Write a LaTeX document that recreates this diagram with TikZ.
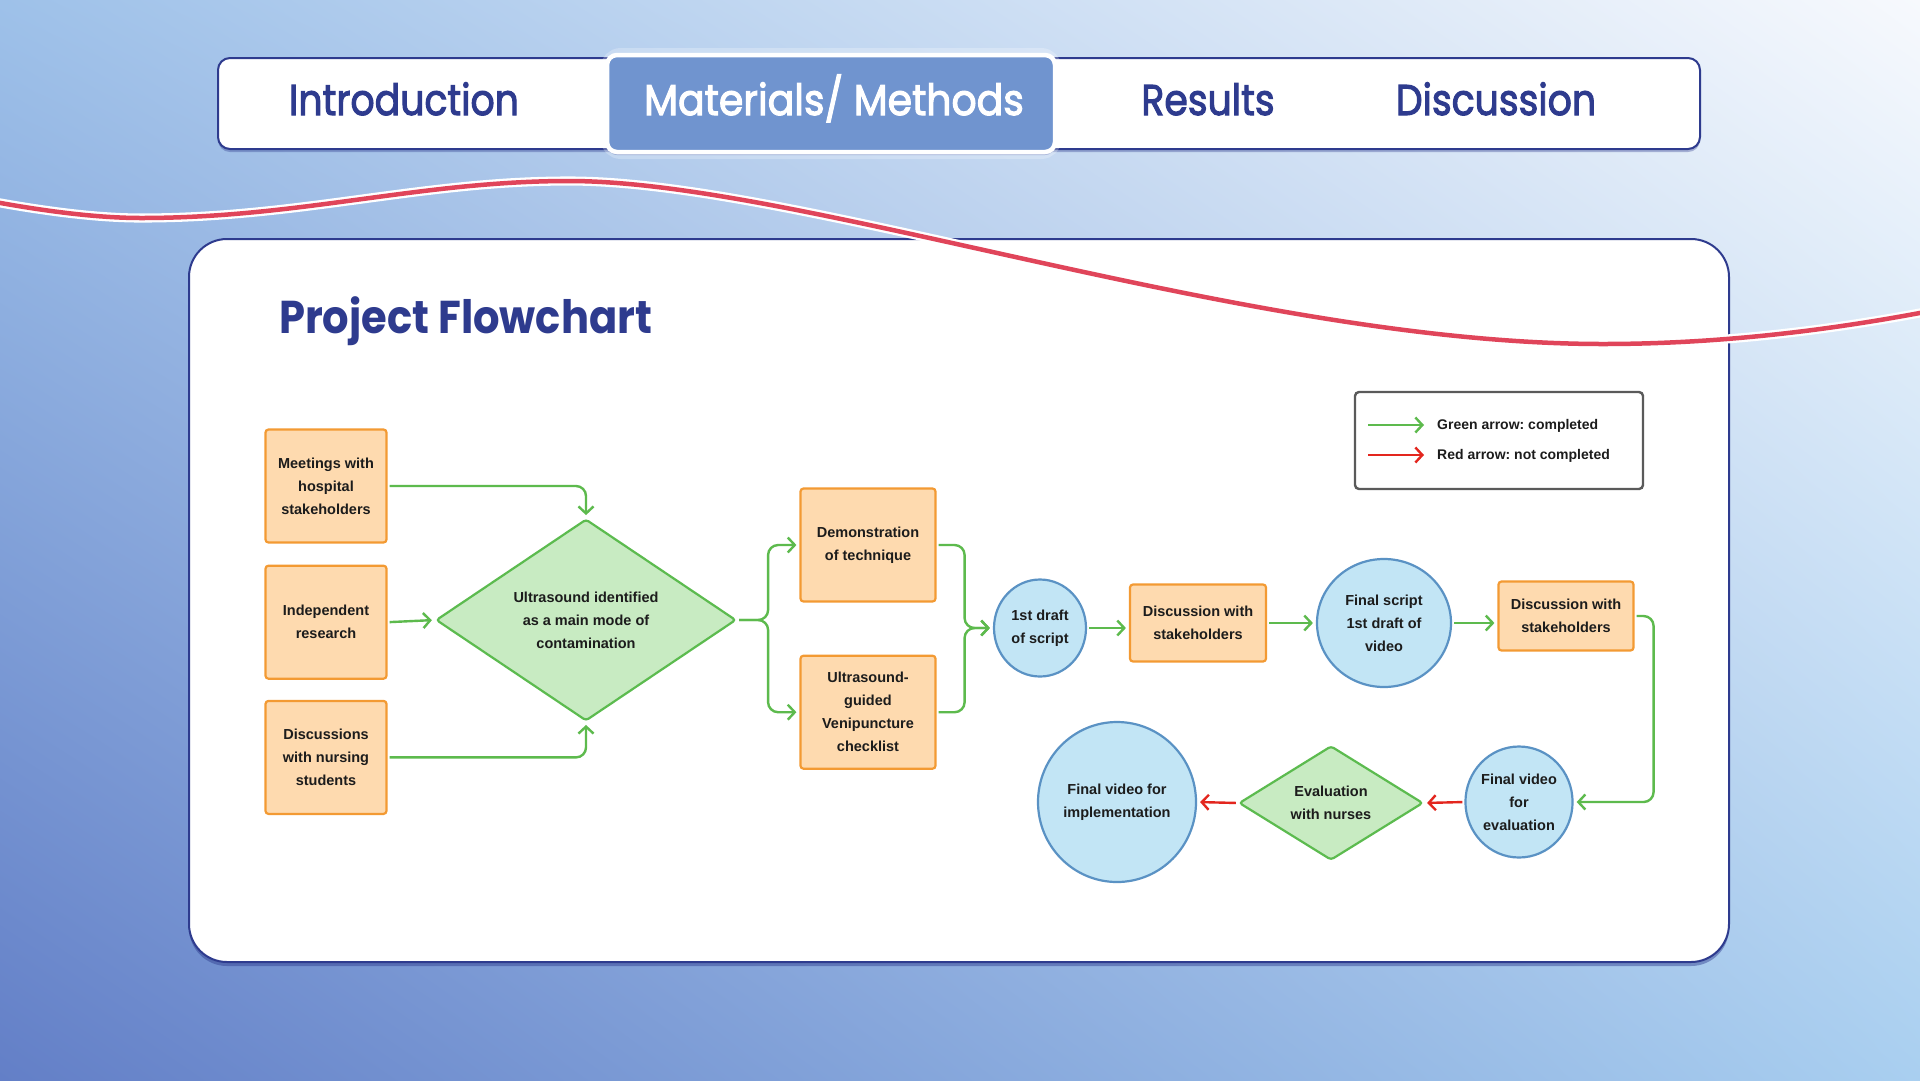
\documentclass[tikz,border=0pt]{standalone}
\usepackage{fontspec}
\setmainfont{Liberation Sans}
\newfontfamily\headfont{Poppins}
\newfontfamily\tabfont{Poppins}[FakeBold=2.6]
\usepackage{tikz}
\usetikzlibrary{shapes.geometric,arrows.meta,positioning,shadows,shadings,calc}
\frenchspacing

\definecolor{navy}{HTML}{2E3B8E}
\definecolor{boxfill}{HTML}{FEDAAF}
\definecolor{boxline}{HTML}{F39A33}
\definecolor{decfill}{HTML}{C8EBC2}
\definecolor{decline}{HTML}{5CBB4F}
\definecolor{circfill}{HTML}{C2E5F5}
\definecolor{circline}{HTML}{5A92C4}
\definecolor{okgreen}{HTML}{5DBA4D}
\definecolor{notred}{HTML}{E3261E}
\definecolor{wavered}{HTML}{E0455A}
\definecolor{activetab}{HTML}{7094CF}
\definecolor{inktext}{HTML}{1C1C1C}
\definecolor{legline}{HTML}{5A5A5A}
\definecolor{bgul}{RGB}{158,193,233}
\definecolor{bgur}{RGB}{247,249,253}
\definecolor{bgll}{RGB}{99,127,199}
\definecolor{bglr}{RGB}{169,207,240}

\newcommand{\boxfont}{\fontsize{14.5}{23}\selectfont\bfseries}
\newcommand{\legfont}{\fontsize{14}{16}\selectfont\bfseries}
\newcommand{\tabsize}{\fontsize{43}{50}\selectfont}

\begin{document}
\begin{tikzpicture}[
    x=1pt, y=-1pt,
    font=\boxfont,
    procbox/.style={rectangle, draw=boxline, fill=boxfill, line width=2.2pt, rounded corners=3pt, align=center, text=inktext, minimum width=121pt, minimum height=113pt, inner sep=2pt},
    decision/.style={diamond, draw=decline, fill=decfill, line width=2.2pt, rounded corners=3pt, align=center, text=inktext, inner sep=0pt},
    milestone/.style={ellipse, draw=circline, fill=circfill, line width=2.2pt, align=center, text=inktext, inner sep=0pt},
    garrow/.style={draw=okgreen, line width=2.4pt, -{Straight Barb[length=7pt,width=15pt]}, rounded corners=10pt, shorten >=3pt, shorten <=2pt},
    rarrow/.style={draw=notred, line width=2.4pt, -{Straight Barb[length=7pt,width=15pt]}, shorten >=3pt, shorten <=2pt},
    tablabel/.style={text=navy, font=\tabfont\tabsize, inner sep=0pt},
    legendbox/.style={rectangle, draw=legline, fill=white, line width=2.4pt, rounded corners=4pt, minimum width=288pt, minimum height=97pt}
]
\useasboundingbox (0,0) rectangle (1920,1080);

% Background and frames
\shade[upper left=bgul, upper right=bgur, lower left=bgll, lower right=bglr] (0,0) rectangle (1920,1080);
\draw[fill=white, draw=navy, line width=2pt, rounded corners=12pt,
      drop shadow={shadow xshift=0pt, shadow yshift=-3pt, opacity=.35, fill=navy}] (218,58) rectangle (1700,149);
\draw[draw=white, line width=14pt, opacity=.25, rounded corners=14pt] (607,55) rectangle (1055,152);
\draw[fill=activetab, draw=white, line width=4.5pt, rounded corners=10pt,
      drop shadow={shadow xshift=0pt, shadow yshift=-3pt, opacity=.3, fill=navy}] (607,55) rectangle (1055,152);
\draw[fill=white, draw=navy, line width=2pt, rounded corners=38pt,
      drop shadow={shadow xshift=0pt, shadow yshift=-4pt, opacity=.45, fill=navy}] (189,239) rectangle (1729,962);

% Wave
\draw[draw=white, double=wavered, double distance=4.5pt, line width=2.3pt]
    (-5,202) .. controls (50,212) and (100,218) .. (141,218)
    .. controls (300,218) and (420,181) .. (569,181)
    .. controls (800,181) and (1250,344) .. (1603,344)
    .. controls (1720,344) and (1830,330) .. (1925,312);

% Tabs
\node[tablabel, anchor=base] (tab_intro) at (404,115) {\scalebox{0.88}[1]{Introduction}};
\node[tablabel, anchor=base, text=white] (tab_methods) at (834,115) {\scalebox{0.915}[1]{Materials/ Methods}};
\node[tablabel, anchor=base] (tab_results) at (1208,115) {\scalebox{0.88}[1]{Results}};
\node[tablabel, anchor=base] (tab_discuss) at (1496,115) {\scalebox{0.88}[1]{Discussion}};

% Title
\node[anchor=base west, inner sep=0pt, text=navy, font=\headfont\bfseries\fontsize{46}{50}\selectfont] (title) at (279,333) {\scalebox{0.905}[1]{Project Flowchart}};

% Inputs
\node[procbox] (meet) at (326,486) {Meetings with\\hospital\\stakeholders};
\node[procbox, below=21pt of meet] (indep) {Independent\\research};
\node[procbox, below=20pt of indep] (nurs) {Discussions\\with nursing\\students};
\node[decision, minimum width=300pt, minimum height=186pt] (ultra) at (586,620) {Ultrasound identified\\as a main mode of\\contamination};

% Outputs
\node[procbox, minimum width=135pt] (demo) at (868,545) {Demonstration\\of technique};
\node[procbox, minimum width=135pt, below=52pt of demo] (venip) {Ultrasound-\\guided\\Venipuncture\\checklist};
\node[milestone, minimum width=92pt, minimum height=97pt] (draft1) at (1040,628) {1st draft\\of script};
\node[procbox, minimum width=136pt, minimum height=77pt] (disc1) at (1198,623) {Discussion with\\stakeholders};
\node[milestone, minimum width=134pt, minimum height=128pt] (script) at (1384,623) {Final script\\1st draft of\\video};
\node[procbox, minimum width=135pt, minimum height=69pt] (disc2) at (1566,616) {Discussion with\\stakeholders};
\node[milestone, minimum width=106pt, minimum height=111pt] (fveval) at (1519,802) {Final video\\for\\evaluation};
\node[decision, minimum width=184pt, minimum height=114pt] (evaln) at (1331,803) {Evaluation\\with nurses};
\node[milestone, minimum width=158pt, minimum height=160pt] (fvimpl) at (1117,802) {Final video for\\implementation};

% Legend
\node[legendbox] (legend) at (1499,440.5) {};
\coordinate (lg_g1) at (1368,425);
\coordinate (lg_g2) at (1424,425);
\coordinate (lg_r1) at (1368,455);
\coordinate (lg_r2) at (1424,455);
\draw[garrow, shorten <=0pt, shorten >=0pt] (lg_g1) -- (lg_g2);
\draw[rarrow, shorten <=0pt, shorten >=0pt] (lg_r1) -- (lg_r2);
\node[anchor=west, font=\legfont, text=inktext, inner sep=0pt] (lg_gtext) at (1437,426) {Green arrow: completed};
\node[anchor=west, font=\legfont, text=inktext, inner sep=0pt] (lg_rtext) at (1437,456) {Red arrow: not completed};

% Connections
\draw[garrow] (meet.east) -| (ultra.north);
\draw[garrow] (indep.east) -- (ultra.west);
\draw[garrow] (nurs.east) -| (ultra.south);
\draw[garrow] (ultra.east) -- ++(31,0) |- (demo.west);
\draw[garrow] (ultra.east) -- ++(31,0) |- (venip.west);
\draw[garrow] (demo.east) -- ++(28,0) |- (draft1.west);
\draw[garrow] (venip.east) -- ++(28,0) |- (draft1.west);
\draw[garrow] (draft1.east) -- (draft1.east -| disc1.west);
\draw[garrow] (disc1.east) -- (script.west);
\draw[garrow] (script.east) -- (script.east -| disc2.west);
\draw[garrow] (disc2.east) -- ++(19,0) |- (fveval.east);
\draw[rarrow] (fveval.west) -- (evaln.east);
\draw[rarrow] (evaln.west) -- (fvimpl.east);

\end{tikzpicture}
\end{document}
